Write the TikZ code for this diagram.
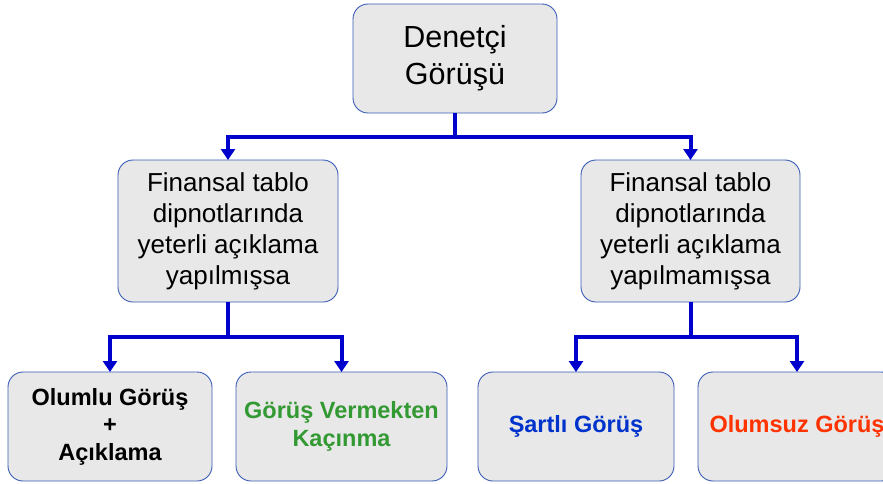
\documentclass[tikz,border=0pt]{standalone}
\usepackage{fontspec}
\setmainfont{Liberation Sans}
\usetikzlibrary{arrows.meta}
\definecolor{boxfill}{HTML}{E8E8E8}
\definecolor{boxdraw}{HTML}{3A5BB5}
\definecolor{conn}{HTML}{0000CC}
\definecolor{tgreen}{HTML}{339933}
\definecolor{tblue}{HTML}{0033CC}
\definecolor{tred}{HTML}{FF3300}
\tikzset{
  box/.style={draw=boxdraw, line width=0.9pt, fill=boxfill, rounded corners=15pt, align=center, inner sep=0pt, outer sep=0pt},
  topbox/.style={box, font=\fontsize{30.5}{37}\selectfont},
  midbox/.style={box, font=\fontsize{26}{31}\selectfont},
  botbox/.style={box, font=\fontsize{23.5}{27.5}\selectfont\bfseries},
  arr/.style={draw=conn, line width=4pt, -{Triangle[width=14pt,length=11pt]}}
}
\begin{document}
\begin{tikzpicture}[x=1pt,y=-1pt]
\useasboundingbox (0,0) rectangle (883,483);
\clip (0,0) rectangle (883,483);
\node[topbox, minimum width=204pt, minimum height=109pt] (top) at (455,58.5) {Denetçi\\Görüşü};
\node[midbox, minimum width=220pt, minimum height=142pt] (l) at (228,231) {Finansal tablo\\dipnotlarında\\yeterli açıklama\\yapılmışsa};
\node[midbox, minimum width=219pt, minimum height=142pt] (r) at (690.5,231) {Finansal tablo\\dipnotlarında\\yeterli açıklama\\yapılmamışsa};
\node[botbox, minimum width=204pt, minimum height=109pt] (b1) at (110,426.5) {Olumlu Görüş\\+\\Açıklama};
\node[botbox, minimum width=211pt, minimum height=109pt, text=tgreen] (b2) at (341.5,426.5) {Görüş Vermekten\\Kaçınma};
\node[botbox, minimum width=196pt, minimum height=109pt, text=tblue] (b3) at (576,426.5) {Şartlı Görüş};
\node[botbox, minimum width=198pt, minimum height=109pt, text=tred] (b4) at (797,426.5) {Olumsuz Görüş};
\coordinate (h0) at (455,137);
\coordinate (h1) at (228,337);
\coordinate (h2) at (690,337);
\draw[arr] (top.south) -- (top.south |- h0) -| (l.north);
\draw[arr] (top.south) -- (top.south |- h0) -| (r.north);
\draw[arr] (l.south) -- (l.south |- h1) -| (b1.north);
\draw[arr] (l.south) -- (l.south |- h1) -| (b2.north);
\draw[arr] (r.south) -- (r.south |- h2) -| (b3.north);
\draw[arr] (r.south) -- (r.south |- h2) -| (b4.north);
\end{tikzpicture}
\end{document}
